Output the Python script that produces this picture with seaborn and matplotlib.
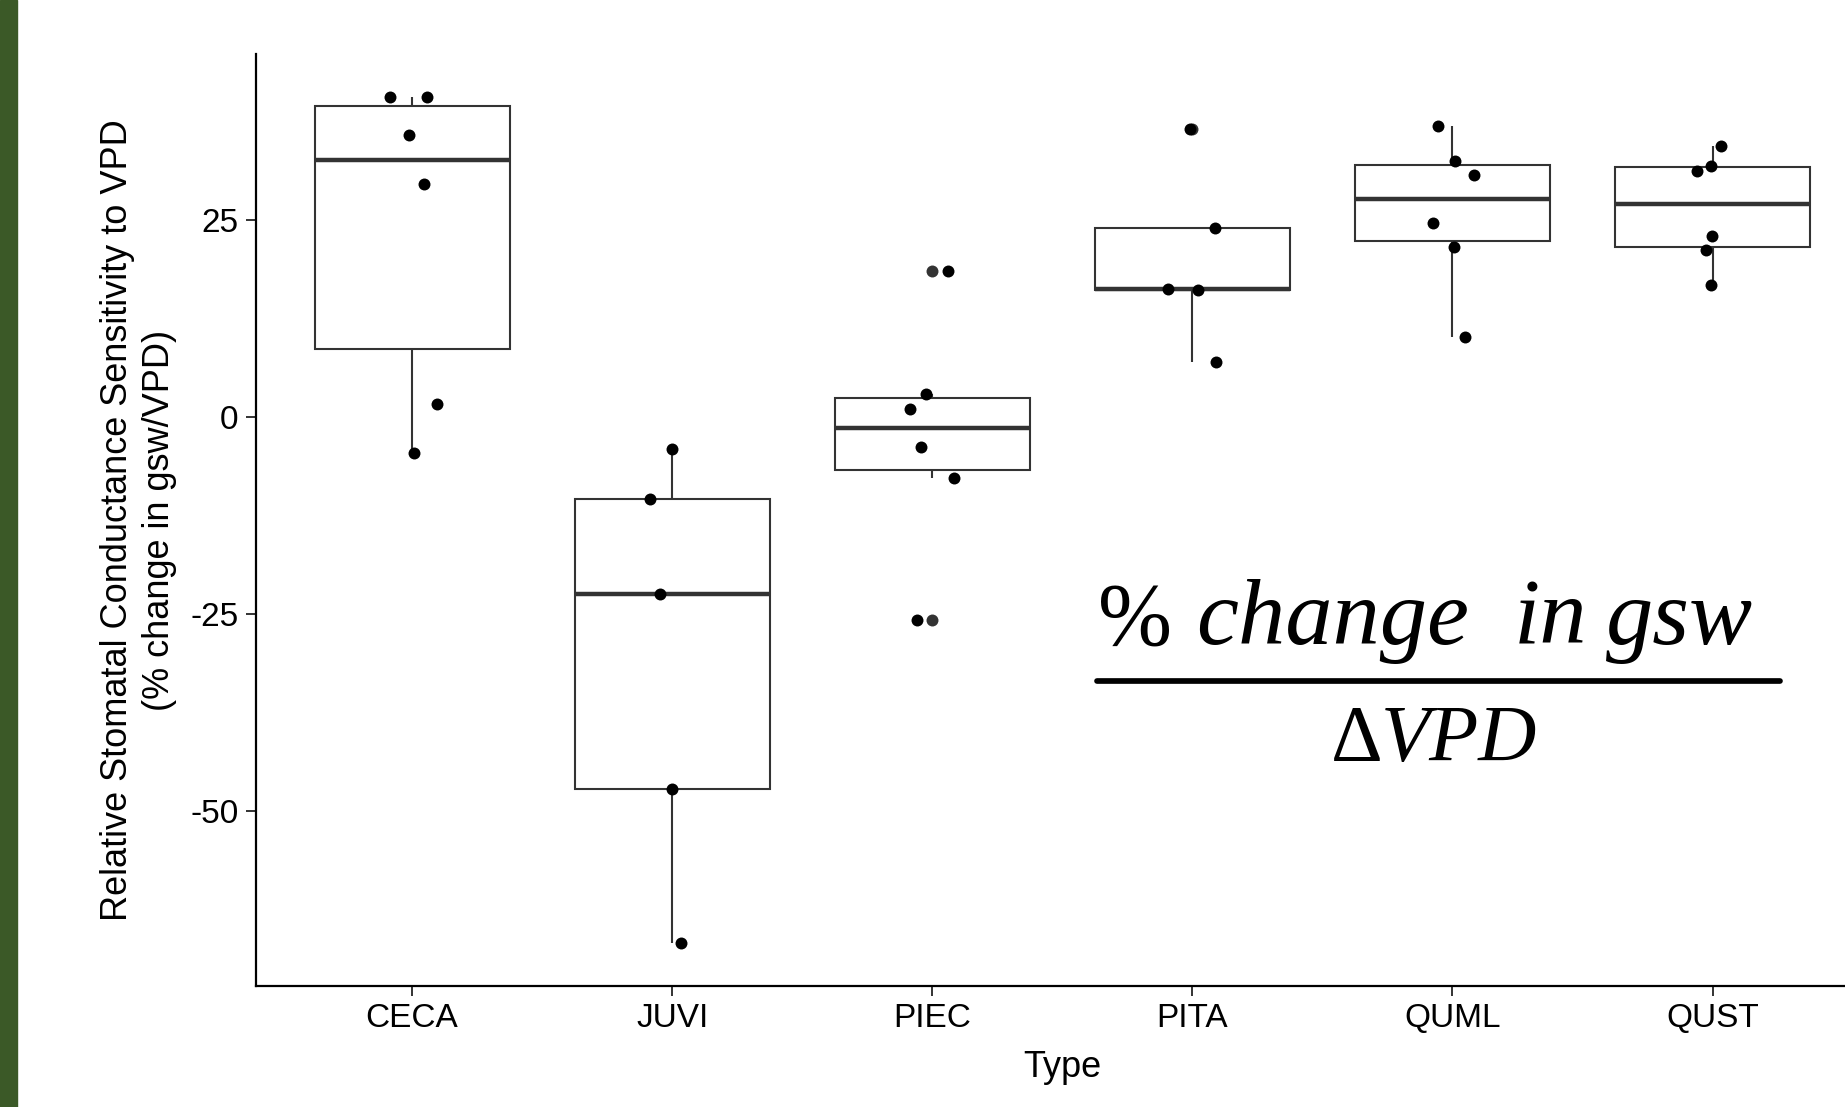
from typing import Final

from matplotlib.axes import Axes
from matplotlib.lines import Line2D
from matplotlib.patches import Rectangle
import matplotlib.pyplot as plt
import numpy as np
import pandas as pd
import seaborn as sns

# === Data ===

SPECIES: Final[list[str]] = ["CECA", "JUVI", "PIEC", "PITA", "QUML", "QUST"]

CECA_VALS: Final[list[float]] = [40.7, 40.7, 35.8, 29.6, 1.7, -4.6]
JUVI_VALS: Final[list[float]] = [-4.0, -10.4, -22.4, -47.2, -66.8]
PIEC_VALS: Final[list[float]] = [18.6, 2.9, 1.0, -3.8, -7.7, -25.7]
PITA_VALS: Final[list[float]] = [36.6, 24.0, 16.3, 16.2, 7.0]
QUML_VALS: Final[list[float]] = [36.9, 32.5, 30.7, 24.7, 21.6, 10.2]
QUST_VALS: Final[list[float]] = [34.4, 31.9, 31.2, 23.0, 21.2, 16.8]

Y_TICKS: Final[list[int]] = [-50, -25, 0, 25]

X_LABEL: Final[str] = "Type"
Y_LABEL: Final[str] = (
    "Relative Stomatal Conductance Sensitivity to VPD\n(% change in gsw/VPD)"
)

# figure is 1845 x 1107 px
FIG_W: Final[float] = 1845.0
FIG_H: Final[float] = 1107.0

BOX_LINE: Final[str] = "#333333"
SLIDE_GREEN: Final[str] = "#3b5927"


def build_frame() -> pd.DataFrame:
    groups = [CECA_VALS, JUVI_VALS, PIEC_VALS, PITA_VALS, QUML_VALS, QUST_VALS]
    rows = []
    for name, vals in zip(SPECIES, groups):
        for v in vals:
            rows.append({"Type": name, "Sensitivity": v})
    return pd.DataFrame(rows)


def px(x: float, y: float) -> tuple[float, float]:
    # pixel position (from top-left) -> figure fraction
    return x / FIG_W, 1 - y / FIG_H


def draw_formula(fig: plt.Figure) -> None:
    serif = "Liberation Serif"
    fig.text(*px(1098, 644), "%", family=serif, fontsize=64, color="black",
             ha="left", va="baseline")
    for word, x in [("change", 1196), ("in", 1514), ("gsw", 1606)]:
        fig.text(*px(x, 644), word, family=serif, style="italic", fontsize=68,
                 color="black", ha="left", va="baseline")
    x0, y0 = px(1097, 681)
    x1, _ = px(1780, 681)
    fig.add_artist(Line2D([x0, x1], [y0, y0], color="black", linewidth=4.1,
                          transform=fig.transFigure))
    fig.text(*px(1331, 761), "\u0394", family=serif, fontsize=58, color="black",
             ha="left", va="baseline")
    fig.text(*px(1381, 761), "VPD", family=serif, style="italic", fontsize=58,
             color="black", ha="left", va="baseline")


def main() -> None:
    df = build_frame()

    sns.set_style("white")
    plt.rcParams["font.family"] = ["Liberation Sans", "DejaVu Sans"]
    plt.rcParams["axes.unicode_minus"] = False

    fig = plt.figure(figsize=(FIG_W / 100, FIG_H / 100), dpi=100)
    ax: Axes = fig.add_axes([256 / FIG_W, 1 - 986 / FIG_H,
                             1612.6 / FIG_W, 932 / FIG_H])

    sns.boxplot(
        data=df, x="Type", y="Sensitivity", order=SPECIES,
        width=0.75, color="white", linecolor=BOX_LINE, linewidth=1.5,
        showcaps=False,
        medianprops={"linewidth": 3.2, "color": BOX_LINE},
        flierprops={"marker": "o", "markerfacecolor": BOX_LINE,
                    "markeredgecolor": "none", "markersize": 8.6},
        ax=ax,
    )
    np.random.seed(7)  # jitter only moves points sideways
    sns.stripplot(
        data=df, x="Type", y="Sensitivity", order=SPECIES,
        color="black", size=8.6, jitter=0.1, linewidth=0, ax=ax, zorder=4,
    )

    ax.set_xlim(-0.6, 5.6)
    ax.set_ylim(-72.2, 46.1)
    ax.set_yticks(Y_TICKS)
    ax.set_yticklabels([str(t) for t in Y_TICKS])

    for side in ["top", "right"]:
        ax.spines[side].set_visible(False)
    for side in ["left", "bottom"]:
        ax.spines[side].set_color("black")
        ax.spines[side].set_linewidth(1.6)

    ax.tick_params(axis="both", direction="out", length=7.5, width=1.4,
                   color=BOX_LINE, labelsize=24, labelcolor="black",
                   left=True, bottom=True)
    ax.tick_params(axis="x", pad=5)
    ax.tick_params(axis="y", pad=5)

    ax.set_xlabel(X_LABEL, fontsize=26, color="black")
    ax.xaxis.set_label_coords(0.5, -0.069)
    ax.set_ylabel(Y_LABEL, fontsize=26, color="black", linespacing=1.25)
    ax.yaxis.set_label_coords(-0.049, 0.5)

    # green strip from the slide template on the left edge
    fig.add_artist(Rectangle((0, 0), 17 / FIG_W, 1, color=SLIDE_GREEN,
                             transform=fig.transFigure, zorder=0))

    draw_formula(fig)

    fig.savefig("out.png", dpi=100)


if __name__ == "__main__":
    main()
